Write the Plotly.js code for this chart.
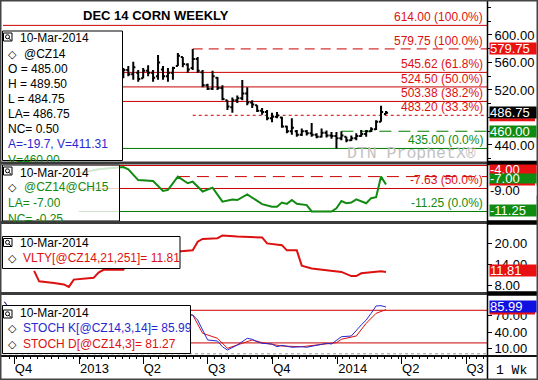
<!DOCTYPE html>
<html><head><meta charset="utf-8">
<script src="https://cdn.plot.ly/plotly-3.0.1.min.js"></script>
<style>html,body{margin:0;padding:0;background:#fff}#chart{width:538px;height:380px}</style>
</head><body><div id="chart"></div>
<script>
// ---------- DATA ----------
const barDates = ['2013-03-04','2013-03-11','2013-03-18','2013-03-25','2013-04-01','2013-04-08','2013-04-15','2013-04-22','2013-04-29','2013-05-06',
 '2013-05-13','2013-05-20','2013-05-27','2013-06-03','2013-06-10','2013-06-17','2013-06-24','2013-07-01','2013-07-08','2013-07-15',
 '2013-07-22','2013-07-29','2013-08-05','2013-08-12','2013-08-19','2013-08-26','2013-09-02','2013-09-09','2013-09-16','2013-09-23',
 '2013-09-30','2013-10-07','2013-10-14','2013-10-21','2013-10-28','2013-11-04','2013-11-11','2013-11-18','2013-11-25','2013-12-02',
 '2013-12-09','2013-12-16','2013-12-23','2013-12-30','2014-01-06','2014-01-13','2014-01-20','2014-01-27','2014-02-03','2014-02-10',
 '2014-02-17','2014-02-24','2014-03-03','2014-03-10'];
const barOpen  = [540,549,543,545,537,548,545,540,550,540,545,555,568,557,552,565,546,527,522,538,523,505,495,505,508,515,502,498,490,488,479,481,480,467,460,460,455,460,457,455,452,458,454,453,450,452,447,450,453,456,460,463,474,485];
const barHigh  = [552,555,561,549,552,556,549,571,555,552,554,574,568,559,579.75,568,549,529,548,539,527,505,509,512,534.5,524,505,498,494,491,487,488,481,468,479,462,464,462,472,457,464,461,459,459,460,452,454,457,462,462,466,476,497,489.5];
const barLow   = [537,540,535,532,537,540,532,535,535,532,535,555,553,545,549,545,524,520,520,520,505,491,487,501,505,498,494,488,484,476,473,479,465,457,455,452,453,454,452,450,451,451,449,435,447,444,446,447,452,452,459,462,474,484.75];
const barClose = [549,543,553,536,548,545,538,560,540,545,552,570,558,550,565,548,527,522,540,523,507,496,505,508,515,502,499,490,488,479,481,483,467,460,465,455,460,457,455,452,458,454,453,450,454,447,450,453,456,460,463,474,488,486.75];

const spreadDates = ['2012-12-31','2013-01-28','2013-02-25','2013-03-04','2013-03-11','2013-03-25','2013-04-15','2013-04-29','2013-05-06','2013-05-20',
 '2013-06-03','2013-06-10','2013-06-24','2013-07-08','2013-07-22','2013-08-05','2013-08-12','2013-08-26','2013-09-16','2013-09-30',
 '2013-10-07','2013-10-14','2013-10-21','2013-10-28','2013-11-04','2013-11-18','2013-11-25','2013-12-09','2013-12-23','2013-12-30',
 '2014-01-06','2014-01-13','2014-01-20','2014-01-27','2014-02-10','2014-02-17','2014-02-24','2014-03-03','2014-03-10'];
const spreadValues = [-5.2,-4.6,-4.3,-4.25,-4.6,-6.3,-6.45,-8.0,-7.85,-5.75,
 -6.8,-6.55,-8.1,-7.5,-9.7,-9.35,-9.45,-8.55,-10.1,-10.5,
 -10.5,-9.85,-10.05,-9.45,-10.05,-10.25,-11.25,-11.25,-11.25,-10.75,
 -9.6,-9.95,-9.85,-9.35,-9.95,-9.15,-9.0,-5.75,-7.0];

const vltyDates = ['2012-10-29','2012-11-05','2012-11-26','2012-12-10','2012-12-17','2012-12-24','2013-01-21','2013-01-28','2013-02-04','2013-03-04',
 '2013-03-11','2013-05-20','2013-06-10','2013-06-17','2013-06-24','2013-07-15','2013-07-22','2013-08-12','2013-09-16','2013-09-23',
 '2013-10-14','2013-10-21','2013-11-04','2013-11-11','2013-11-25','2013-12-16','2014-01-06','2014-01-20','2014-01-27','2014-02-03',
 '2014-02-17','2014-03-03','2014-03-10'];
const vltyValues = [12.1,9.1,8.65,8.2,7.5,9.6,10.1,11.6,12.4,12.4,
 15.5,17.7,18.0,20.5,21.3,21.5,22.3,21.95,21.7,20.0,
 19.5,18.0,18.0,13.6,12.8,12.4,11.8,10.6,10.6,11.4,
 11.6,12.0,11.81];

const stochKDates = ['2012-09-17','2012-09-24','2013-06-10','2013-06-17','2013-07-01','2013-07-15','2013-07-22','2013-07-29','2013-08-12','2013-08-26',
 '2013-09-02','2013-09-09','2013-09-16','2013-09-30','2013-10-07','2013-10-14','2013-10-28','2013-11-11','2013-11-18','2013-11-25',
 '2013-12-09','2013-12-16','2013-12-23','2014-01-06','2014-01-13','2014-01-20','2014-02-03','2014-02-10','2014-02-17','2014-02-24',
 '2014-03-03','2014-03-10'];
const stochKValues = [96,82,71.3,62,25.4,23.5,13,7,16.2,28.5,
 26.7,22.2,19.3,18,13,15.6,12,13,12,14.3,
 17.5,19.3,18,31.4,31.4,32.7,53,62,74.4,87.9,
 88.5,85.99];
const stochDDates = ['2012-09-17','2012-09-24','2013-06-10','2013-06-24','2013-07-15','2013-07-29','2013-08-19','2013-09-02','2013-09-16','2013-10-14',
 '2013-11-11','2013-12-09','2013-12-30','2014-01-06','2014-01-27','2014-02-10','2014-02-24','2014-03-10'];
const stochDValues = [95,85,71.3,37.7,28.5,10.1,19.3,25.4,20.4,14.3,
 13,18,20.4,26.7,32.7,56,74.4,81.27];

const priceLevels = [614.00, 579.75, 545.62, 524.50, 503.38, 483.20, 435.00];
const priceLevelPct = ['100.0%','100.0%','61.8%','50.0%','38.2%','33.3%','0.0%'];
const priceLevelStart = [null,'2013-06-10',null,null,null,'2013-06-10',null];
const priceLevelDash = ['solid','10px,6px','solid','solid','solid','3px,3px','solid'];
const priceLevelColor = ['red','red','red','red','red','red','green'];
const swingLevel = 460.00, swingStart = '2014-01-06';

const spreadLevels = [-4.00, -5.75, -7.625, -11.25];
const spreadLevelLabel = [null, null, '-7.63 (50.0%)', '-11.25 (0.0%)'];
const stochLevels = [80, 20];

const quarterTicks = ['2012-10-01','2013-01-01','2013-04-01','2013-07-01','2013-10-01','2014-01-01','2014-04-01','2014-07-01'];
const quarterLabels = ['Q4','2013','Q2','Q3','Q4','2014','Q2','Q3'];

// ---------- HELPERS ----------
const RED = '#dd1010', GREEN = '#108a10', BLUE = '#2828d0';
const xStart = '2012-09-15', xEnd = '2014-07-30 16:00';
const px = X => (X - 3) / 484;
const py = Y => (355 - Y) / 355;

const traces = [
  {type:'ohlc', x:barDates, open:barOpen, high:barHigh, low:barLow, close:barClose, xaxis:'x', yaxis:'y',
   increasing:{line:{color:'#000', width:2}}, decreasing:{line:{color:'#000', width:2}}, tickwidth:0.42, hoverinfo:'skip'},
  {type:'scatter', mode:'lines', x:spreadDates, y:spreadValues, xaxis:'x', yaxis:'y2', line:{color:GREEN, width:2}, hoverinfo:'skip'},
  {type:'scatter', mode:'lines', x:vltyDates, y:vltyValues, xaxis:'x', yaxis:'y3', line:{color:RED, width:2}, hoverinfo:'skip'},
  {type:'scatter', mode:'lines', x:stochDDates, y:stochDValues, xaxis:'x', yaxis:'y4', line:{color:RED, width:1}, hoverinfo:'skip'},
  {type:'scatter', mode:'lines', x:stochKDates, y:stochKValues, xaxis:'x', yaxis:'y4', line:{color:BLUE, width:1}, hoverinfo:'skip'}
];

const shapes = [];
function hline(yref, y, x0, color, dash, width, layer) {
  shapes.push({type:'line', xref:'x', yref, x0:x0 || xStart, x1:xEnd, y0:y, y1:y, line:{color, width:width||1, dash:dash||'solid'}, layer:layer||'below'});
}
priceLevels.forEach((v,i) => hline('y', v, priceLevelStart[i], priceLevelColor[i]==='red' ? '#cc0000' : '#007a00', priceLevelDash[i]));
hline('y', swingLevel, swingStart, '#007a00', '12px,7px');
hline('y2', spreadLevels[0], '2012-12-31', '#cc0000');
hline('y2', spreadLevels[1], '2013-05-20', '#cc0000', '12px,7px');
hline('y2', spreadLevels[2], '2012-12-31', '#cc0000');
hline('y2', spreadLevels[3], '2012-12-31', '#007a00');
stochLevels.forEach(v => hline('y4', v, null, '#cc0000'));
hline('y4', 0, null, '#999', '3px,3px');

function pbox(x0, y0, x1, y1, fill, lineColor, w) {
  shapes.push({type:'rect', xref:'paper', yref:'paper', x0:px(x0), x1:px(x1), y0:py(y0), y1:py(y1),
    fillcolor:fill, line:{color:lineColor, width:w===undefined?1:w}, layer:'above'});
}
function pline(x0, y0, x1, y1, color, w) {
  shapes.push({type:'line', xref:'paper', yref:'paper', x0:px(x0), x1:px(x1), y0:py(y0), y1:py(y1), line:{color, width:w}, layer:'above'});
}
function icon(X, Y) {
  pbox(X, Y, X+8.5, Y+8, '#fff', '#000', 1);
  shapes.push({type:'circle', xref:'paper', yref:'paper', x0:px(X+2), x1:px(X+6), y0:py(Y+1.8), y1:py(Y+5.8), line:{color:'#000', width:1}, layer:'above'});
  pline(X+5.5, Y+5.5, X+7.5, Y+7.3, '#000', 1);
}
// legend boxes
pbox(2.5, 31, 122.5, 160.5, '#fff', '#000', 1);
pbox(2.5, 165, 119.5, 221, 'rgba(255,255,255,0.8)', '#000', 1);
pbox(2.5, 236.5, 180, 268.5, '#fff', '#000', 1);
pbox(2.5, 305.5, 190.5, 353.5, '#fff', '#000', 1);
icon(3.5, 33); icon(3.5, 167); icon(3.5, 238.5); icon(3.5, 310);
// partly hidden value tags on the right scale (only thin coloured strips show)
pbox(489.5, 118.3, 535, 121.2, '#e81010', 'rgba(0,0,0,0)', 0);
pbox(489.5, 182.3, 535, 186, '#e81010', 'rgba(0,0,0,0)', 0);
pbox(489.5, 311.6, 535, 314.4, '#e81010', 'rgba(0,0,0,0)', 0);
// separators
[163, 222.5, 293.5].forEach(Y => { pline(0, Y, 487, Y, '#3a3a3a', 3); pline(487, Y, 538, Y, '#000', 4.5); });
pline(0, 356, 538, 356, '#111', 2);
pline(487.5, 0, 487.5, 380, '#000', 1.5);
pbox(0.75, 0.75, 537.25, 379.25, 'rgba(0,0,0,0)', '#444', 1.5);

// ---------- ANNOTATIONS ----------
const ann = [];
function txt(X, Y, text, color, size, extra) {
  ann.push(Object.assign({xref:'paper', yref:'paper', x:px(X), y:py(Y), text, showarrow:false, xanchor:'left', yanchor:'middle',
    borderpad:0, font:{size:size||12, color:color||'#000'}}, extra||{}));
}
txt(156, 15, '<b>DEC 14 CORN WEEKLY</b>', '#000', 13, {xanchor:'center'});
// level labels
priceLevels.forEach((v,i) => ann.push({xref:'paper', yref:'y', x:1, xshift:-3, y:v, xanchor:'right', yanchor:'bottom', showarrow:false, borderpad:0,
  text:v.toFixed(2)+' ('+priceLevelPct[i]+')', font:{size:12, color: priceLevelColor[i]==='red' ? RED : GREEN}}));
spreadLevelLabel.forEach((t,i) => { if (t) ann.push({xref:'paper', yref:'y2', x:1, xshift:-3, y:spreadLevels[i], xanchor:'right', yanchor:'bottom', showarrow:false, borderpad:0,
  text:t, font:{size:12, color: i===3 ? GREEN : RED}}); });
// watermark
txt(411.5, 153, 'DTN ProphetX®', '#c2c2c2', 16.5, {xanchor:'center', height:13, font:{size:16.5, color:'#c2c2c2', family:'"Liberation Mono", "Courier New", monospace'}});
// legends
const dia = '◇';
txt(18.5, 38.5, '10-Mar-2014');
txt(7, 54.3, dia, '#000', 11); txt(22.5, 54.3, '@CZ14');
txt(7, 69, 'O = 485.00'); txt(7, 84, 'H = 489.50'); txt(7, 99, 'L = 484.75');
txt(7, 114, 'LA= 486.75'); txt(7, 129, 'NC= 0.50');
txt(7, 143.5, 'A=-19.7, V=411.31', BLUE, 12, {height:13});
txt(7, 151.5, 'V=460.00', GREEN, 12, {yanchor:'top', height:9, valign:'top'});
txt(18.5, 172.5, '10-Mar-2014');
txt(7, 187.3, dia, '#000', 11); txt(22.5, 187.3, '@CZ14@CH15', GREEN);
txt(7, 202.5, 'LA= -7.00', GREEN, 12, {height:13});
txt(7, 210.5, 'NC= -0.25', GREEN, 12, {yanchor:'top', height:10, valign:'top'});
txt(18.5, 243.3, '10-Mar-2014');
txt(7, 258.3, dia, '#000', 11); txt(21.5, 258.3, 'VLTY[@CZ14,21,251]= 11.81', RED);
txt(18.5, 313.3, '10-Mar-2014');
txt(7, 328.4, dia, '#000', 11); txt(22.3, 328.4, 'STOCH K[@CZ14,3,14]= 85.99', BLUE);
txt(7, 344.2, dia, '#000', 11); txt(22.3, 344.2, 'STOCH D[@CZ14,3]= 81.27', RED);
// axis value boxes
function valBox(yref, v, text, bg, shift, fc, h) {
  ann.push({xref:'paper', yref, x:1, y:v, xanchor:'left', yanchor:'middle', xshift:2, yshift:shift||0, text, showarrow:false,
    bgcolor:bg, font:{size:13, color:fc||'#fff'}, width:46, height:h||11, borderpad:0, align:'left'});
}
valBox('y', 579.75, '579.75', '#e81010');
valBox('y', 486.75, '486.75', '#000');
valBox('y', 460.00, '460.00', '#108a10');
valBox('y2', -4.00, '-4.00', '#e81010', -3.5, '#fff', 9);
valBox('y2', -7.00, '-7.00', '#108a10', 6.5, '#fff', 9);
valBox('y2', -9.00, '-9.00', '#fff', 6.8, '#000', 9);
valBox('y2', -11.25, '-11.25', '#108a10', 0.5);
valBox('y3', 11.81, '11.81', '#e81010', 1);
valBox('y4', 85.99, '85.99', '#1010e0', 1);
txt(511.5, 370.5, '1 Wk', '#000', 13, {xanchor:'center', font:{size:13, color:'#000', family:'"Liberation Mono", "Courier New", monospace'}});

// ---------- LAYOUT ----------
const yCommon = {side:'right', anchor:'x', showgrid:false, zeroline:false, showline:false, ticks:'outside', ticklen:4, tickcolor:'#000',
  tickfont:{size:13, color:'#000'}, tickformat:'.2f', fixedrange:true, ticklabeloverflow:'allow'};
const layout = {
  width:538, height:380, margin:{l:3, r:51, t:0, b:25, pad:0},
  paper_bgcolor:'#fff', plot_bgcolor:'#fff', showlegend:false, hovermode:false,
  font:{family:'"Liberation Sans", Arial, sans-serif', size:12, color:'#000'},
  xaxis:{type:'date', range:[xStart, xEnd], anchor:'y4', rangeslider:{visible:false}, showgrid:false, zeroline:false, showline:false,
    tickmode:'array', tickvals:quarterTicks, ticktext:quarterLabels, ticks:'outside', ticklen:8, tickcolor:'#000',
    tickfont:{size:13, color:'#000'}, ticklabelposition:'outside right', ticklabelstandoff:1,
    minor:{dtick:864000000, ticks:'outside', ticklen:3, tickcolor:'#000', showgrid:false}, fixedrange:true},
  yaxis:Object.assign({}, yCommon, {domain:[0.54648, 0.99437], range:[416.73, 648.0], tickvals:[440,520,560,600],
    minor:{dtick:20, tick0:0, ticks:'outside', ticklen:3, tickcolor:'#000', showgrid:false}}),
  yaxis2:Object.assign({}, yCommon, {domain:[0.37746, 0.53521], range:[-12.754, -3.921], showticklabels:false, ticks:''}),
  yaxis3:Object.assign({}, yCommon, {domain:[0.17746, 0.36901], range:[6.034, 25.575], tickvals:[8,14,20]}),
  yaxis4:Object.assign({}, yCommon, {domain:[0, 0.16901], range:[-2.206, 108.09], tickvals:[10,40,70]}),
  shapes, annotations:ann
};
Plotly.newPlot('chart', traces, layout, {staticPlot:true, displayModeBar:false});
</script></body></html>
